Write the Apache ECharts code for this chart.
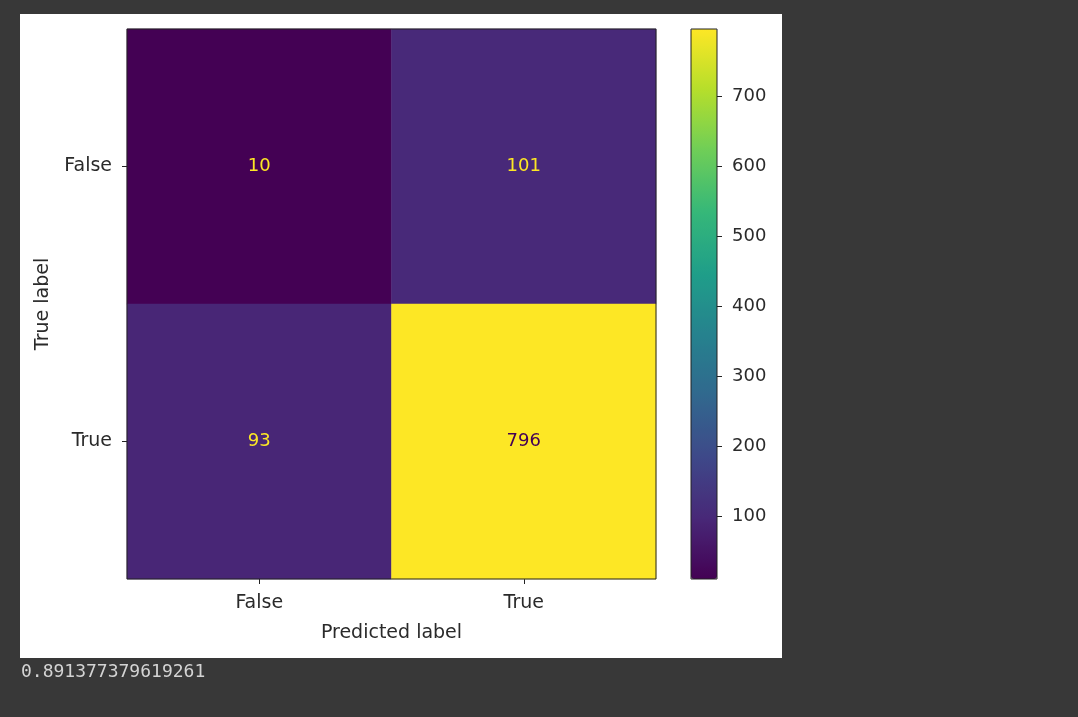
<!DOCTYPE html>
<html>
<head>
<meta charset="utf-8">
<script src="https://cdn.jsdelivr.net/npm/echarts@6/dist/echarts.min.js"></script>
<style>
  html, body { margin: 0; padding: 0; background: #383838; }
  #chart { width: 1078px; height: 717px; }
</style>
</head>
<body>
<div id="chart"></div>
<script>
// confusion matrix data
var predLabels = ['False', 'True'];
var trueLabels = ['False', 'True'];
// [predicted index, true index, count]
var cells = [
  [0, 0, 10],
  [1, 0, 101],
  [0, 1, 93],
  [1, 1, 796]
];
var cbarTicks = [100, 200, 300, 400, 500, 600, 700];
var scoreText = '0.891377379619261';

var viridis = ['#440154', '#482878', '#3e4989', '#31688e', '#26828e',
               '#1f9e89', '#35b779', '#6ece58', '#b5de2b', '#fde725'];

var vmin = Math.min.apply(null, cells.map(function (c) { return c[2]; }));
var vmax = Math.max.apply(null, cells.map(function (c) { return c[2]; }));
var mid = (vmin + vmax) / 2;

var font = 'DejaVu Sans';
var txt = '#2a2a2a';

var chart = echarts.init(document.getElementById('chart'));
var option = {
  backgroundColor: '#383838',
  animation: false,
  graphic: [
    { type: 'rect', z: -10, shape: { x: 20, y: 14, width: 762, height: 644 }, style: { fill: '#ffffff' } },
    { type: 'text', left: 21, top: 663, style: { text: scoreText, fill: '#d4d4d4', font: '18px "DejaVu Sans Mono"' } }
  ],
  grid: [
    { left: 127, top: 29, width: 529, height: 550, show: true, z: 10,
      borderColor: '#222', borderWidth: 1, backgroundColor: 'transparent' },
    { left: 691, top: 29, width: 26, height: 550, show: true, z: 10,
      borderColor: '#222', borderWidth: 1, backgroundColor: 'transparent' }
  ],
  xAxis: [
    { type: 'category', gridIndex: 0, data: predLabels,
      name: 'Predicted label', nameLocation: 'middle', nameGap: 45,
      nameTextStyle: { fontFamily: font, fontSize: 19, color: txt },
      axisLine: { show: false },
      axisTick: { show: true, alignWithLabel: true, length: 5, lineStyle: { color: '#222' } },
      axisLabel: { fontFamily: font, fontSize: 19, color: txt, margin: 15 },
      splitLine: { show: false } },
    { type: 'category', gridIndex: 1, data: ['c'], show: false }
  ],
  yAxis: [
    { type: 'category', gridIndex: 0, data: trueLabels, inverse: true,
      name: 'True label', nameLocation: 'middle', nameGap: 74, nameRotate: 90,
      nameTextStyle: { fontFamily: font, fontSize: 19, color: txt },
      axisLine: { show: false },
      axisTick: { show: true, alignWithLabel: true, length: 5, lineStyle: { color: '#222' } },
      axisLabel: { fontFamily: font, fontSize: 19, color: txt, margin: 15 },
      splitLine: { show: false } },
    { type: 'value', gridIndex: 1, position: 'right', min: vmin, max: vmax,
      axisLine: { show: false },
      axisTick: { show: true, length: 5, customValues: cbarTicks, lineStyle: { color: '#222' } },
      axisLabel: { fontFamily: font, fontSize: 18, color: txt, margin: 15, customValues: cbarTicks },
      splitLine: { show: false } }
  ],
  visualMap: [{
    type: 'continuous',
    seriesIndex: 0,
    min: vmin, max: vmax,
    calculable: false,
    realtime: false,
    left: 691, top: 29,
    itemWidth: 26, itemHeight: 550,
    padding: 0,
    text: null,
    showLabel: false,
    inRange: { color: viridis }
  }],
  series: [{
    type: 'heatmap',
    xAxisIndex: 0, yAxisIndex: 0,
    data: cells.map(function (c) {
      return {
        value: c,
        label: { color: c[2] < mid ? '#fde725' : '#440154' }
      };
    }),
    label: {
      show: true,
      fontFamily: font, fontSize: 18,
      formatter: function (p) { return p.value[2]; }
    },
    emphasis: { disabled: true }
  }]
};
chart.setOption(option);
</script>
</body>
</html>
